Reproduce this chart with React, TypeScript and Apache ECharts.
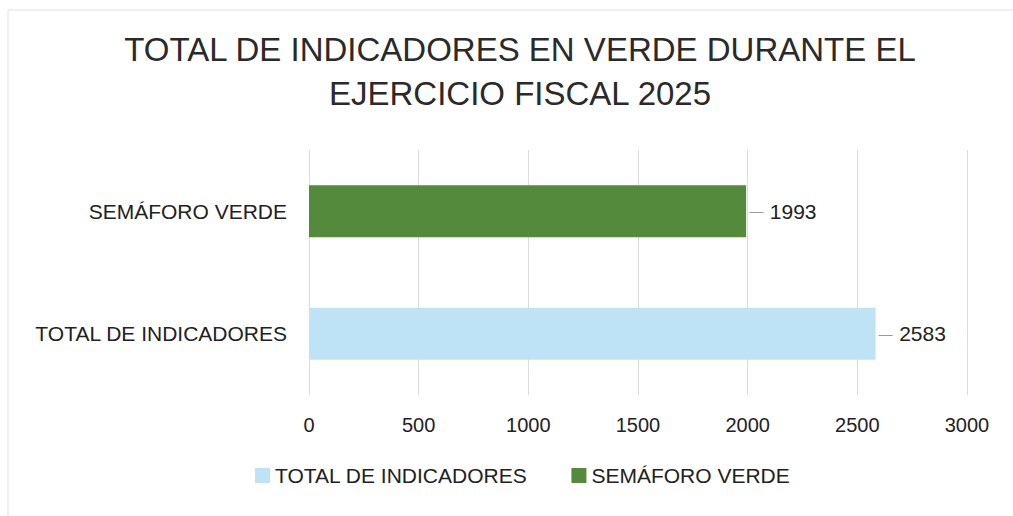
import React, { useEffect, useRef } from "react";
import * as echarts from "echarts";

const titleLines = ["TOTAL DE INDICADORES EN VERDE DURANTE EL", "EJERCICIO FISCAL 2025"];
const categories = ["TOTAL DE INDICADORES", "SEMÁFORO VERDE"];
const seriesNames = ["TOTAL DE INDICADORES", "SEMÁFORO VERDE"];
const totalValues: (number | string)[] = [2583, "-"];
const verdeValues: (number | string)[] = ["-", 1993];
const xMin = 0;
const xMax = 3000;
const xInterval = 500;

const FONT = "'Liberation Sans', Arial, sans-serif";

export default function App() {
  const ref = useRef<HTMLDivElement>(null);
  useEffect(() => {
    document.body.style.margin = "0";
    const chart = echarts.init(ref.current!, undefined, { renderer: "svg" });
    const label = {
      show: true,
      position: "right" as const,
      distance: 3,
      formatter: (p: any) => "{d|—}  {v|" + p.value + "}",
      rich: {
        d: { color: "#9a9a9a", fontSize: 14, fontFamily: FONT },
        v: { color: "#222", fontSize: 21, fontFamily: FONT },
      },
    };
    chart.setOption({
      animation: false,
      backgroundColor: "#fff",
      textStyle: { fontFamily: FONT },
      title: {
        text: titleLines.join("\n"),
        left: 515,
        textAlign: "center",
        top: 22,
        textStyle: {
          fontFamily: FONT,
          fontSize: 33,
          fontWeight: "normal",
          color: "#2a2a2a",
          lineHeight: 44,
        },
      },
      legend: {
        bottom: 25,
        left: 250,
        itemWidth: 15,
        itemHeight: 15,
        itemGap: 44,
        icon: "rect",
        textStyle: { fontSize: 21, color: "#222", fontFamily: FONT },
        data: seriesNames,
      },
      grid: { left: 309, right: 46, top: 150, bottom: 121, containLabel: false },
      xAxis: {
        type: "value",
        min: xMin,
        max: xMax,
        interval: xInterval,
        axisLine: { show: false },
        axisTick: { show: false },
        splitLine: { show: true, lineStyle: { color: "#dcdcdc", width: 1 } },
        axisLabel: {
          fontSize: 20,
          color: "#222",
          margin: 20,
          fontFamily: FONT,
          formatter: (v: number) => String(v),
        },
      },
      yAxis: {
        type: "category",
        data: categories,
        axisLine: { show: false },
        axisTick: { show: false },
        axisLabel: { fontSize: 21, color: "#222", margin: 22, fontFamily: FONT },
      },
      series: [
        {
          name: seriesNames[0],
          type: "bar",
          stack: "s",
          data: totalValues,
          barWidth: 52,
          itemStyle: { color: "#bee2f6" },
          label,
        },
        {
          name: seriesNames[1],
          type: "bar",
          stack: "s",
          data: verdeValues,
          barWidth: 52,
          itemStyle: { color: "#548a3c" },
          label,
        },
      ],
      graphic: [
        {
          type: "rect",
          shape: { x: 8, y: 10, width: 1010, height: 510 },
          style: { fill: "none", stroke: "#e2e2e2", lineWidth: 1 },
          silent: true,
        },
      ],
    });
    return () => chart.dispose();
  }, []);
  return <div ref={ref} style={{ width: 1013, height: 516 }} />;
}
